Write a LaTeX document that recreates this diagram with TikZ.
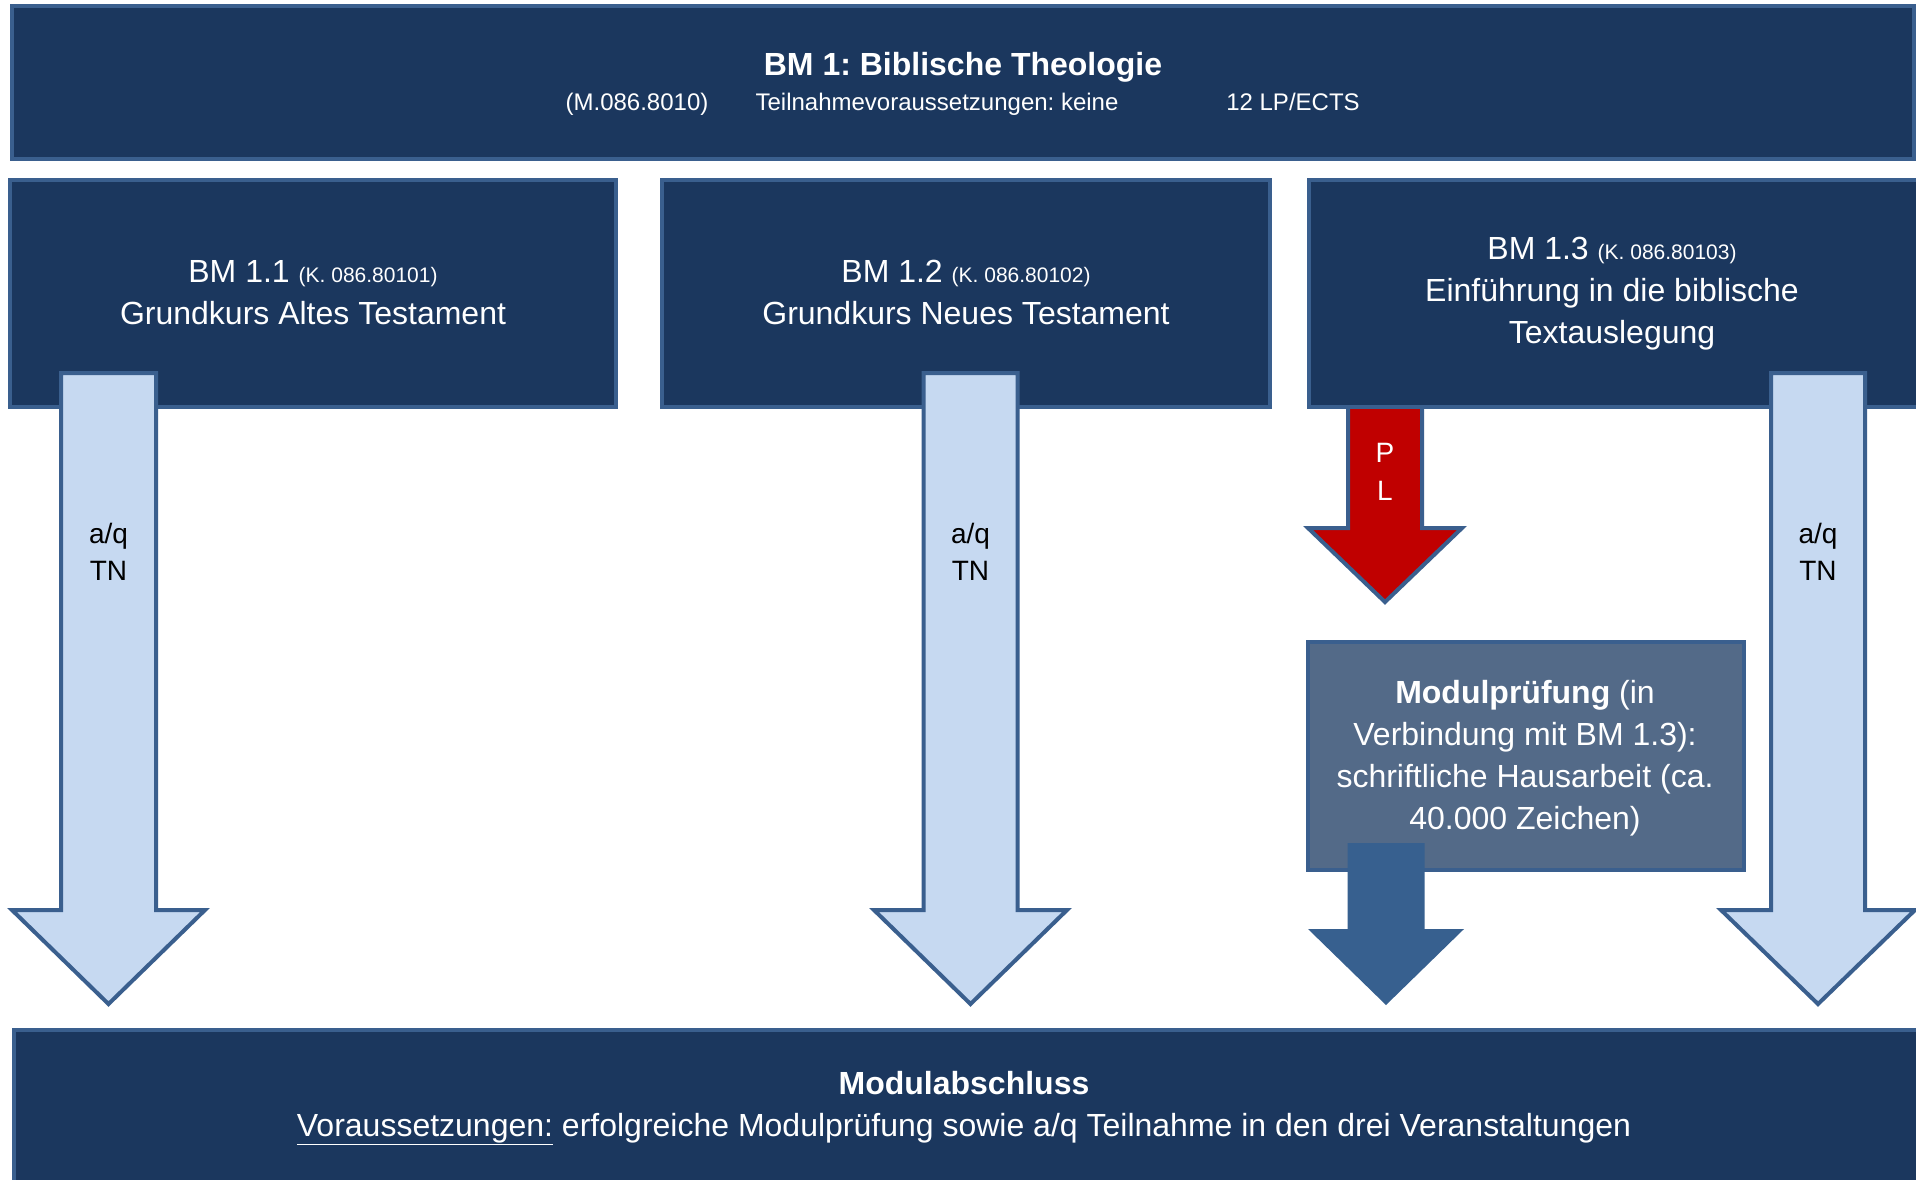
\documentclass[tikz,border=0pt]{standalone}
\usepackage{fontspec}
\setmainfont{Liberation Sans}
\usetikzlibrary{calc}
\frenchspacing
\definecolor{navy}{HTML}{1B375E}
\definecolor{edgeblue}{HTML}{3A5F8E}
\definecolor{lightblue}{HTML}{C6D9F1}
\definecolor{midblue}{HTML}{536A88}
\definecolor{deepblue}{HTML}{37608F}
\definecolor{redfill}{HTML}{C00000}
\newcommand\barrowpath[6]{({#1-#5},#2) -- ({#1+#5},#2) -- ({#1+#5},#3) -- ({#1+#6},#3) -- (#1,#4) -- ({#1-#6},#3) -- ({#1-#5},#3) -- cycle}
\begin{document}
\begin{tikzpicture}[x=1pt,y=-1pt,
  box/.style={draw=edgeblue, line width=4pt, fill=navy, inner sep=0pt},
  modbox/.style={draw=edgeblue, line width=4pt, fill=midblue, inner sep=0pt},
  lightarrow/.style={draw=edgeblue, line width=4pt, fill=lightblue, line join=miter},
  redarrow/.style={draw=edgeblue, line width=4pt, fill=redfill, line join=miter},
  deeparrow/.style={fill=deepblue},
  wtext/.style={text=white, align=center, font=\fontsize{32}{42}\selectfont, inner sep=0pt},
  stext/.style={text=white, align=center, font=\fontsize{24}{30}\selectfont, inner sep=0pt, anchor=base},
  atext/.style={text=black, align=center, font=\fontsize{28}{37}\selectfont, inner sep=0pt}]
\useasboundingbox (0,0) rectangle (1916,1179);
\clip (0,0) rectangle (1916,1179);
\fill[white] (0,0) rectangle (1916,1179);

% top box
\node[box, minimum width=1902pt, minimum height=153pt] (top) at (963,82.5) {};
\node[wtext, font=\fontsize{32}{42}\selectfont\bfseries] (toptitle) at (963,67) {BM 1: Biblische Theologie};
\node[stext] (code) at (637,110) {(M.086.8010)};
\node[stext] (req) at (937,110) {Teilnahmevoraussetzungen: keine};
\node[stext] (lp) at (1293,110) {12 LP/ECTS};

% red arrow (behind box 1.3)
\path[redarrow] \barrowpath{1385}{395}{528}{602}{37}{77};

% course boxes
\node[box, minimum width=606pt, minimum height=227pt] (b11) at (313,293.5) {};
\node[box, minimum width=608pt, minimum height=227pt] (b12) at (966,293.5) {};
\node[box, minimum width=609pt, minimum height=227pt] (b13) at (1613.5,293.5) {};
\node[wtext] (t11) at (313,293) {BM 1.1 {\fontsize{21}{26}\selectfont(K. 086.80101)}\\Grundkurs Altes Testament};
\node[wtext] (t12) at (966,292) {BM 1.2 {\fontsize{21}{26}\selectfont(K. 086.80102)}\\Grundkurs Neues Testament};
\node[wtext] (t13) at (1612,294) {BM 1.3 {\fontsize{21}{26}\selectfont(K. 086.80103)}\\Einführung in die biblische\\Textauslegung};
\node[wtext, font=\fontsize{28}{38}\selectfont] (pl) at (1385,472) {P\\L};

% light arrows
\path[lightarrow] \barrowpath{108.5}{373}{910}{1004}{47.5}{96.5};
\path[lightarrow] \barrowpath{970.5}{373}{910}{1004}{47}{96.5};
\path[lightarrow] \barrowpath{1818}{373}{910}{1004}{47}{97};
\node[atext] (aq1) at (108.5,552) {a/q\\TN};
\node[atext] (aq2) at (970.5,552) {a/q\\TN};
\node[atext] (aq3) at (1818,552) {a/q\\TN};

% module exam box
\node[modbox, minimum width=436pt, minimum height=228pt] (mp) at (1526,756) {};
\node[wtext] (mpt) at (1525,758) {\textbf{Modulprüfung} (in\\Verbindung mit BM 1.3):\\schriftliche Hausarbeit (ca.\\40.000 Zeichen)};
\path[deeparrow] \barrowpath{1386}{843}{929}{1005}{38.5}{78};

% bottom box
\node[box, minimum width=1904pt, minimum height=180pt] (bottom) at (966,1120) {};
\node[wtext] (bt) at (964,1108) {\textbf{Modulabschluss}\\\underline{Voraussetzungen:} erfolgreiche Modulprüfung sowie a/q Teilnahme in den drei Veranstaltungen};
\end{tikzpicture}
\end{document}
